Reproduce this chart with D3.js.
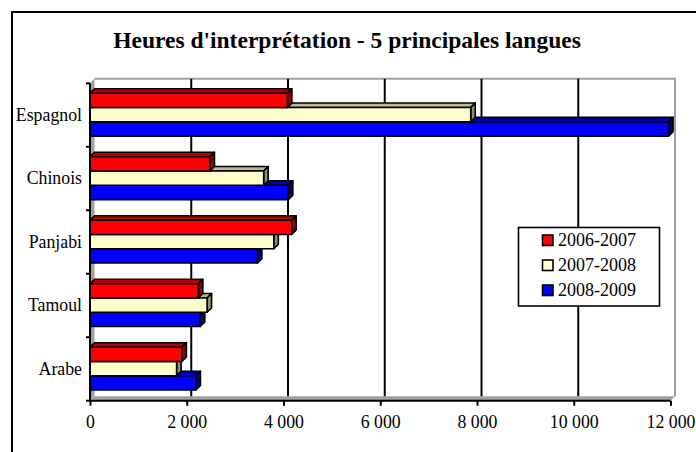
<!DOCTYPE html>
<html>
<head>
<meta charset="utf-8">
<script src="https://cdn.jsdelivr.net/npm/d3@7"></script>
<style>
	body { margin: 0; background: #fff; }
	svg { display: block; }
	text { font-family: "Liberation Serif", "Times New Roman", serif; fill: #000; }
</style>
</head>
<body>
<svg id="chart" width="696" height="452"></svg>
<script>
const titleText = "Heures d'interprétation - 5 principales langues";
const categories = ['Espagnol', 'Chinois', 'Panjabi', 'Tamoul', 'Arabe'];
const seriesNames = ['2006-2007', '2007-2008', '2008-2009'];
const values2006 = [4080, 2480, 4170, 2240, 1900];
const values2007 = [7870, 3590, 3800, 2420, 1790];
const values2008 = [11960, 4100, 3460, 2280, 2190];
const xTicks = [0, 2000, 4000, 6000, 8000, 10000, 12000];
const seriesColors = ['#ff0000', '#ffffcc', '#0000ff'];

const BarChart3D = {
	depth: 4.5,
	left: 90,
	right: 670.5,
	top: 83.3,
	bottom: 400.7,

	draw: function() {
		const self = this;
		let svg = d3.select('#chart');
		let seriesValues = [values2006, values2007, values2008];

		self.x = d3.scaleLinear()
			.domain([0, 12000])
			.range([self.left, self.right]);
		self.y = d3.scaleBand()
			.domain(categories)
			.range([self.top, self.bottom]);
		self.ySeries = d3.scaleBand()
			.domain(seriesNames)
			.range([10, 52.8]);

		self.drawFrame(svg);
		self.drawWalls(svg);
		self.drawBars(svg, seriesValues);
		self.drawAxes(svg);
		self.drawLegend(svg);
	},

	drawFrame: function(svg) {
		svg.append('rect')
			.attr('x', 12)
			.attr('y', 12)
			.attr('width', 700)
			.attr('height', 460)
			.style('fill', '#fff')
			.style('stroke', '#000')
			.style('stroke-width', 2);

		svg.append('text')
			.attr('x', 347)
			.attr('y', 48)
			.attr('text-anchor', 'middle')
			.style('font-size', '23.5px')
			.style('font-weight', 'bold')
			.text(titleText);
	},

	drawWalls: function(svg) {
		const self = this;
		let d = self.depth;
		let wallColor = '#a0a0a0';

		// left side wall
		svg.append('polygon')
			.attr('points', [[self.left, self.top], [self.left + d, self.top - d], [self.left + d, self.bottom - d], [self.left, self.bottom]].join(' '))
			.style('fill', wallColor);

		// floor
		svg.append('polygon')
			.attr('points', [[self.left, self.bottom], [self.left + d, self.bottom - d], [self.right + d, self.bottom - d], [self.right, self.bottom]].join(' '))
			.style('fill', wallColor);

		// back wall outline
		svg.append('path')
			.attr('d', 'M' + (self.left + d) + ',' + (self.top - d) + 'H' + (self.right + d) + 'V' + (self.bottom - d))
			.style('fill', 'none')
			.style('stroke', wallColor)
			.style('stroke-width', 2);

		// grid lines on the back wall
		svg.append('g')
			.selectAll('line')
			.data(xTicks.slice(1, -1))
			.join('line')
			.attr('x1', v => self.x(v) + d)
			.attr('x2', v => self.x(v) + d)
			.attr('y1', self.top - d)
			.attr('y2', self.bottom - d)
			.style('stroke', '#000')
			.style('stroke-width', 2);
	},

	drawBars: function(svg, seriesValues) {
		const self = this;
		let d = self.depth;
		let h = self.ySeries.bandwidth();

		// bottom bar of each group first so the upper bar covers its top face
		for (let s = seriesNames.length - 1; s >= 0; s--) {
			let color = d3.color(seriesColors[s]);
			let topColor = color.darker(0.9);
			let sideColor = color.darker(1.6);

			for (let i = 0; i < categories.length; i++) {
				let x0 = self.x(0);
				let x1 = self.x(seriesValues[s][i]);
				let y0 = self.y(categories[i]) + self.ySeries(seriesNames[s]);
				let g = svg.append('g')
					.style('stroke', '#000')
					.style('stroke-width', 1.6)
					.style('stroke-linejoin', 'round');

				g.append('polygon')
					.attr('points', [[x0, y0], [x0 + d, y0 - d], [x1 + d, y0 - d], [x1, y0]].join(' '))
					.style('fill', topColor);
				g.append('polygon')
					.attr('points', [[x1, y0], [x1 + d, y0 - d], [x1 + d, y0 + h - d], [x1, y0 + h]].join(' '))
					.style('fill', sideColor);
				g.append('rect')
					.attr('x', x0)
					.attr('y', y0)
					.attr('width', x1 - x0)
					.attr('height', h)
					.style('fill', color);
			}
		}
	},

	drawAxes: function(svg) {
		const self = this;
		let format = v => d3.format(',')(v).replace(/,/g, ' ');

		let xAxis = d3.axisBottom(self.x)
			.tickValues(xTicks)
			.tickSize(5)
			.tickPadding(10)
			.tickFormat(format);

		let xg = svg.append('g')
			.attr('transform', 'translate(0,' + self.bottom + ')')
			.call(xAxis);
		xg.select('.domain').attr('d', 'M' + self.left + ',0H' + self.right);

		let yg = svg.append('g')
			.attr('transform', 'translate(' + self.left + ',0)')
			.call(d3.axisLeft(self.y).tickSize(0).tickPadding(8));
		yg.select('.domain').attr('d', 'M0,' + self.top + 'V' + self.bottom);

		// category boundary ticks
		let bounds = categories.map(c => self.y(c)).concat([self.bottom]);
		yg.selectAll('.bound')
			.data(bounds)
			.join('line')
			.attr('class', 'bound')
			.attr('x1', -4)
			.attr('x2', 0)
			.attr('y1', v => v)
			.attr('y2', v => v)
			.style('stroke', '#000')
			.style('stroke-width', 2);

		[xg, yg].forEach(function(g) {
			g.selectAll('.domain, .tick line')
				.style('stroke', '#000')
				.style('stroke-width', 2);
			g.selectAll('text')
				.style('font-family', '"Liberation Serif", serif')
				.style('font-size', '17.8px')
				.style('fill', '#000');
		});
	},

	drawLegend: function(svg) {
		let legend = svg.append('g')
			.attr('transform', 'translate(518.5,227.5)');

		legend.append('rect')
			.attr('width', 141)
			.attr('height', 78.5)
			.style('fill', '#fff')
			.style('stroke', '#000')
			.style('stroke-width', 1.6);

		let rows = legend.selectAll('.row')
			.data(seriesNames)
			.join('g')
			.attr('class', 'row')
			.attr('transform', (s, i) => 'translate(0,' + (12.5 + i * 25) + ')');

		rows.append('rect')
			.attr('x', 24)
			.attr('y', -5)
			.attr('width', 10.5)
			.attr('height', 10.5)
			.style('fill', (s, i) => seriesColors[i])
			.style('stroke', '#000')
			.style('stroke-width', 1.6);

		rows.append('text')
			.attr('x', 39.5)
			.attr('y', 6)
			.style('font-size', '18px')
			.text(s => s);
	}
}

BarChart3D.draw();
</script>
</body>
</html>
